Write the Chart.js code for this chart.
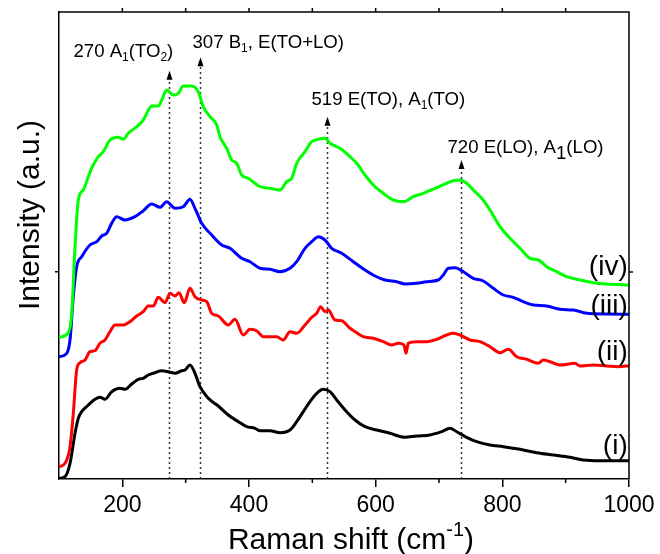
<!DOCTYPE html>
<html>
<head>
<meta charset="utf-8">
<script src="https://cdn.jsdelivr.net/npm/chart.js@4"></script>
<style>
  body { margin: 0; background: #fff; }
  #raman { display: block; }
</style>
</head>
<body>
<canvas id="raman" width="660" height="554"></canvas>
<script>
// tick values
var xTicks = [200, 400, 600, 800, 1000];
var xMinorTicks = [300, 500, 700, 900];
var yTicks = [207];

// (iv) green
var ivShift = [100, 114.7, 120.1, 125.3, 130.5, 138.4, 146.3, 151.6, 162.1, 169.9, 180.5, 193.6, 201.5, 209.4, 222.7, 233.1, 246.4, 256.8, 262.2, 270.0, 280.5, 288.4, 296.3, 309.5, 319.9, 327.8, 338.4, 349.0, 354.2, 364.8, 372.7, 380.6, 388.5, 398.9, 409.5, 417.4, 433.2, 449.0, 459.5, 467.4, 475.3, 488.4, 499.0, 509.4, 520.0, 527.9, 543.7, 559.5, 570.0, 583.2, 596.3, 612.0, 627.8, 643.6, 659.4, 675.2, 693.7, 712.1, 722.6, 733.1, 743.7, 754.1, 767.4, 780.5, 796.3, 812.1, 827.9, 843.7, 856.8, 870.1, 885.8, 901.6, 922.6, 943.6, 964.8, 1000];
var ivInt = [141.7, 146, 166, 232, 279, 289, 302.3, 311, 322.3, 327.3, 339, 341.7, 339.7, 345.7, 352.3, 359, 373, 373, 379, 389, 384, 385.7, 393, 393, 387.3, 372.3, 362.3, 354, 342.3, 330.7, 319, 315.7, 304, 300.7, 295.7, 292.3, 290.7, 289, 297.3, 300.7, 315.7, 327.3, 337.3, 339.7, 340.7, 335.7, 330.7, 322.3, 315.7, 304, 294, 285.7, 279, 277.3, 282.3, 285.7, 290.7, 295.7, 298.3, 299, 295.7, 289, 280.7, 269, 252.3, 240.7, 230.7, 220.7, 219, 212.3, 207.3, 202.3, 199, 196.3, 195, 194];

// (iii) blue
var iiiShift = [100, 112.2, 117.4, 122.6, 127.9, 135.8, 148.9, 159.5, 167.4, 175.3, 183.2, 191.1, 204.2, 220.0, 233.1, 246.4, 259.5, 270.0, 283.2, 296.3, 306.8, 314.7, 325.3, 341.1, 356.9, 370.0, 388.5, 401.6, 417.4, 433.2, 449.0, 464.7, 475.3, 488.4, 499.0, 509.4, 520.0, 530.5, 546.4, 564.7, 583.2, 598.9, 614.7, 633.2, 646.3, 664.8, 680.6, 698.9, 706.8, 714.7, 725.3, 738.4, 754.1, 769.9, 785.7, 801.5, 817.3, 833.1, 848.9, 870.1, 891.0, 912.0, 933.2, 964.8, 1000];
var iiiInt = [122.3, 125.7, 139, 182.3, 212.3, 222.3, 234, 237.3, 243, 245.7, 255.7, 262.3, 259, 262.3, 268.3, 275, 271.7, 277.3, 270.7, 272.3, 279.7, 270.7, 255.7, 244, 234, 230.7, 220.7, 217.3, 210.7, 209.7, 207.3, 210.7, 217.3, 230.7, 237.3, 242.3, 239, 230.7, 225.7, 217.3, 209, 203, 199, 197.3, 195, 195.7, 197.3, 199, 204, 210.7, 211.3, 207.3, 200.7, 198, 190.7, 184, 181.7, 177.3, 174, 173, 169.7, 169, 165.7, 165, 164.7];

// (ii) red
var iiShift = [100, 109.5, 117.4, 122.6, 127.9, 133.2, 141.1, 148.9, 156.8, 164.7, 172.6, 180.5, 188.4, 201.5, 212.1, 222.7, 233.1, 241.0, 248.9, 256.8, 267.4, 275.3, 283.2, 289.5, 297.8, 306.8, 314.7, 325.3, 333.2, 341.1, 351.5, 367.3, 377.9, 391.0, 401.6, 412.1, 422.6, 433.2, 443.7, 454.1, 464.7, 475.3, 488.4, 499.0, 506.9, 513.2, 520.0, 525.2, 535.8, 546.4, 559.5, 570.0, 580.5, 596.3, 612.0, 625.3, 635.7, 644.7, 647.9, 651.5, 664.8, 680.6, 696.4, 712.1, 722.6, 733.1, 748.9, 764.7, 780.5, 796.3, 809.4, 822.7, 838.5, 856.8, 864.7, 875.2, 891.0, 914.7, 922.6, 943.6, 964.8, 983.1, 1000];
var iiInt = [12.3, 15.7, 32.3, 65.7, 109, 116.3, 119, 127.3, 128.3, 135.7, 139, 147.3, 154, 154, 157.3, 163, 167.3, 173, 173, 181.7, 176.3, 185.7, 183, 186.3, 176.3, 190.7, 182.3, 179, 177.3, 165.7, 163, 154, 159.7, 144, 149.7, 148.3, 142.3, 142.3, 142.3, 139, 147.3, 145.7, 154, 161.7, 165.7, 172.3, 167.3, 169, 159, 158.3, 150.7, 146.3, 142.3, 140.7, 137.3, 134, 135.7, 134, 125.7, 135.7, 137.3, 137.3, 139.7, 144, 145.7, 144, 139, 137.3, 132.3, 126.3, 129.7, 122.3, 119.7, 115.7, 119, 117.3, 114, 115.7, 113, 114, 113, 112.3, 113.3];

// (i) black
var iShift = [100, 109.5, 117.4, 125.3, 130.5, 135.8, 146.3, 156.8, 164.7, 172.6, 183.2, 196.3, 204.2, 214.8, 225.2, 233.1, 241.0, 251.6, 262.2, 272.6, 283.2, 293.7, 299.0, 306.8, 314.7, 322.6, 335.7, 351.5, 367.3, 383.1, 396.4, 409.5, 417.4, 433.2, 449.0, 464.7, 475.3, 485.7, 496.3, 506.9, 517.3, 527.9, 538.5, 551.6, 567.4, 583.2, 601.6, 622.6, 646.3, 664.8, 685.8, 704.2, 717.4, 727.9, 743.7, 759.5, 780.5, 801.5, 827.9, 854.3, 880.5, 906.8, 927.8, 954.2, 1000];
var iInt = [0.5, 2.3, 15.7, 45.7, 60.7, 67.3, 74, 79.7, 81.7, 79.7, 87.3, 90.7, 89.7, 95, 99.7, 100.7, 104, 106.3, 108.3, 107.3, 105.7, 108.3, 109, 114, 105.7, 92.3, 80.7, 73, 64, 57.3, 52.3, 50.7, 48.3, 48.3, 46.3, 49, 57.3, 67.3, 77.3, 85.7, 89.7, 87.3, 79, 69, 59, 52.3, 49, 45.7, 41.7, 43, 44, 47.3, 50.7, 47.3, 41.7, 37.3, 34, 32.3, 29.7, 26.3, 24, 21.7, 19, 18.3, 18.3];

// marked peaks: where the dotted line stands and how high its arrow reaches
var peakShift = [273.7, 322.6, 523.2, 734.7];
var peakArrowTop = [408.3, 421.7, 362.3, 319];

var sampleNames = ['(iv)', '(iii)', '(ii)', '(i)'];
var sampleNameLevel = [212, 173, 127, 33];

var FONT = '"Liberation Sans", Arial, sans-serif';

function points(xs, ys) {
  return xs.map(function (x, i) { return { x: x, y: ys[i] }; });
}

function drawRich(ctx, parts, x, y) {
  parts.forEach(function (p) {
    ctx.font = (p.size || 18.6) + 'px ' + FONT;
    ctx.fillText(p.t, x, y + (p.dy || 0));
    x += ctx.measureText(p.t).width;
  });
}

function richWidth(ctx, parts) {
  var w = 0;
  parts.forEach(function (p) {
    ctx.font = (p.size || 18.6) + 'px ' + FONT;
    w += ctx.measureText(p.t).width;
  });
  return w;
}

var peakTexts = [
  { dx: -96, dy: -14, parts: [{ t: '270 A' }, { t: '1', size: 12, dy: 4 }, { t: '(TO' }, { t: '2', size: 12, dy: 4 }, { t: ')' }] },
  { dx: -8, dy: -9, parts: [{ t: '307 B' }, { t: '1', size: 12, dy: 4 }, { t: ', E(TO+LO)' }] },
  { dx: -16, dy: -12, parts: [{ t: '519 E(TO), A' }, { t: '1', size: 12, dy: 4 }, { t: '(TO)' }] },
  { dx: -14, dy: -7, parts: [{ t: '720 E(LO), A' }, { t: '1', size: 18.6, dy: 6 }, { t: '(LO)' }] }
];

var decor = {
  id: 'decor',
  beforeDatasetsDraw: function (chart) {
    var ctx = chart.ctx, xs = chart.scales.x, ys = chart.scales.y;
    ctx.save();
    ctx.strokeStyle = '#333';
    ctx.lineWidth = 1.5;
    ctx.setLineDash([2, 3]);
    peakShift.forEach(function (p, i) {
      var px = Math.round(xs.getPixelForValue(p)) + 0.5;
      ctx.beginPath();
      ctx.moveTo(px, ys.getPixelForValue(0));
      ctx.lineTo(px, ys.getPixelForValue(peakArrowTop[i]) + 8);
      ctx.stroke();
    });
    ctx.restore();
  },
  afterDraw: function (chart) {
    var ctx = chart.ctx, xs = chart.scales.x, ys = chart.scales.y, a = chart.chartArea;
    ctx.save();
    // top and right edges of the frame
    ctx.strokeStyle = '#000';
    ctx.lineWidth = 1.5;
    ctx.beginPath();
    ctx.moveTo(a.left, a.top);
    ctx.lineTo(a.right, a.top);
    ctx.lineTo(a.right, a.bottom);
    ctx.stroke();
    // minor ticks below, mirrored ticks on top and right
    ctx.beginPath();
    xMinorTicks.forEach(function (v) {
      var px = xs.getPixelForValue(v);
      ctx.moveTo(px, a.bottom); ctx.lineTo(px, a.bottom + 4);
    });
    xTicks.concat(xMinorTicks).forEach(function (v) {
      var px = xs.getPixelForValue(v);
      if (v < 1000) { ctx.moveTo(px, a.top); ctx.lineTo(px, a.top - 4); }
    });
    yTicks.forEach(function (v) {
      var py = ys.getPixelForValue(v);
      ctx.moveTo(a.right, py); ctx.lineTo(a.right + 4, py);
    });
    ctx.stroke();

    // arrows and peak labels
    ctx.fillStyle = '#000';
    peakShift.forEach(function (p, i) {
      var px = Math.round(xs.getPixelForValue(p)) + 0.5;
      var top = ys.getPixelForValue(peakArrowTop[i]);
      ctx.beginPath();
      ctx.moveTo(px, top);
      ctx.lineTo(px - 3, top + 9);
      ctx.lineTo(px + 3, top + 9);
      ctx.closePath();
      ctx.fill();
      ctx.textBaseline = 'alphabetic';
      ctx.textAlign = 'left';
      drawRich(ctx, peakTexts[i].parts, px + peakTexts[i].dx, top + peakTexts[i].dy);
    });

    // sample names at the right end
    ctx.font = '28px ' + FONT;
    ctx.textAlign = 'right';
    ctx.textBaseline = 'middle';
    sampleNames.forEach(function (n, i) {
      ctx.fillText(n, xs.getPixelForValue(998), ys.getPixelForValue(sampleNameLevel[i]));
    });

    // axis titles
    var xt = [{ t: 'Raman shift (cm', size: 30 }, { t: '-1', size: 20, dy: -13 }, { t: ')', size: 30 }];
    ctx.textAlign = 'left';
    ctx.textBaseline = 'alphabetic';
    drawRich(ctx, xt, 351 - richWidth(ctx, xt) / 2, 549);

    ctx.translate(39, 215);
    ctx.rotate(-Math.PI / 2);
    ctx.font = '30px ' + FONT;
    ctx.textAlign = 'center';
    ctx.fillText('Intensity (a.u.)', 0, 0);
    ctx.restore();
  }
};

function line(label, xs, ys, color) {
  return {
    label: label,
    data: points(xs, ys),
    borderColor: color,
    borderWidth: 3,
    pointRadius: 0,
    cubicInterpolationMode: 'monotone',
    fill: false
  };
}

var ctx = document.getElementById('raman');
var myChart = new Chart(ctx, {
  type: 'line',
  data: {
    datasets: [
      line('(iv)', ivShift, ivInt, '#00ff00'),
      line('(iii)', iiiShift, iiiInt, '#0000ff'),
      line('(ii)', iiShift, iiInt, '#ff0000'),
      line('(i)', iShift, iInt, '#000000')
    ]
  },
  options: {
    responsive: false,
    devicePixelRatio: 1,
    animation: false,
    layout: { padding: { left: 0, right: 31, top: 12, bottom: 0 } },
    plugins: { legend: { display: false }, tooltip: { enabled: false } },
    scales: {
      x: {
        type: 'linear',
        min: 100,
        max: 1000,
        afterBuildTicks: function (s) { s.ticks = xTicks.map(function (v) { return { value: v }; }); },
        afterFit: function (s) { s.height = 75; },
        ticks: {
          color: '#000',
          font: { size: 23, family: FONT },
          padding: 5,
          maxRotation: 0,
          callback: function (v) { return String(v); }
        },
        grid: { drawOnChartArea: false, drawTicks: true, tickLength: 8, color: '#000', lineWidth: 1.5 },
        border: { color: '#000', width: 1.5 }
      },
      y: {
        min: 0,
        max: 467,
        afterBuildTicks: function (s) { s.ticks = yTicks.map(function (v) { return { value: v }; }); },
        afterFit: function (s) { s.width = 59; },
        ticks: { display: false },
        grid: { drawOnChartArea: false, drawTicks: true, tickLength: 4, color: '#000', lineWidth: 1.5 },
        border: { color: '#000', width: 1.5 }
      }
    }
  },
  plugins: [decor]
});
</script>
</body>
</html>
